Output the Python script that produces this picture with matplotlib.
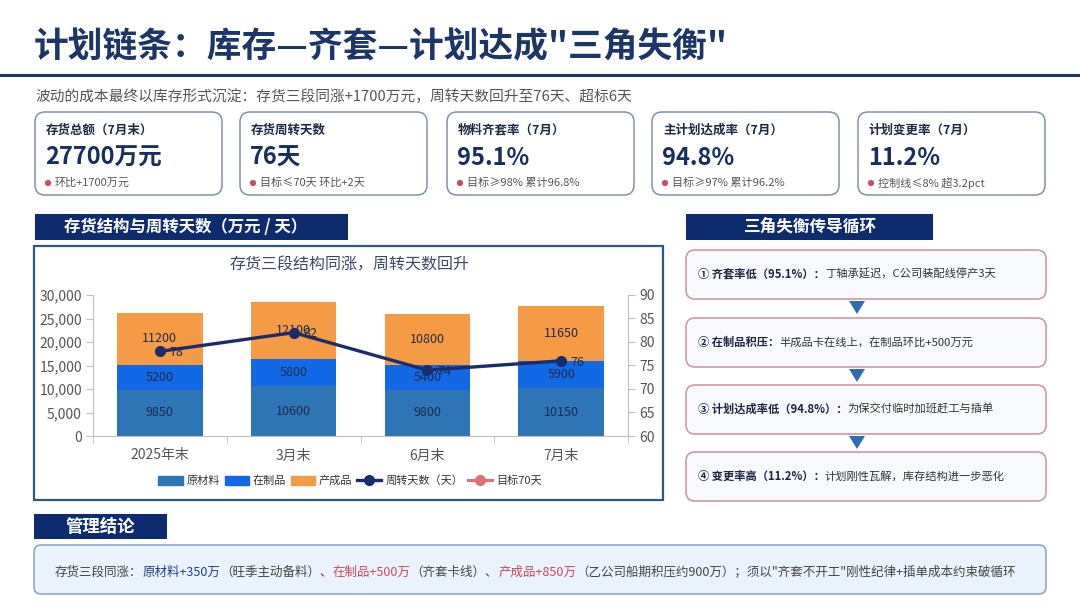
import numpy as np
import matplotlib
matplotlib.use("Agg")
import matplotlib.pyplot as plt
from matplotlib.patches import FancyBboxPatch, Rectangle, Polygon, Patch, Circle
from matplotlib.lines import Line2D
from matplotlib.ticker import FuncFormatter, MultipleLocator, FixedLocator

plt.rcParams['font.family'] = ['Noto Sans CJK SC', 'DejaVu Sans']

W, H = 1080, 608

# ---- 数据 ----
categories = ["2025年末", "3月末", "6月末", "7月末"]
raw_material = [9850, 10600, 9800, 10150]
wip = [5200, 5800, 5400, 5900]
finished = [11200, 12100, 10800, 11650]
turnover_days = [78, 82, 74, 76]
series_names = ["原材料", "在制品", "产成品", "周转天数（天）", "目标70天"]

title = "计划链条：库存—齐套—计划达成\"三角失衡\""
subtitle = "波动的成本最终以库存形式沉淀：存货三段同涨+1700万元，周转天数回升至76天、超标6天"

kpi_titles = ["存货总额（7月末）", "存货周转天数", "物料齐套率（7月）", "主计划达成率（7月）", "计划变更率（7月）"]
kpi_values = ["27700万元", "76天", "95.1%", "94.8%", "11.2%"]
kpi_notes = ["环比+1700万元", "目标≤70天 环比+2天", "目标≥98% 累计96.8%", "目标≥97% 累计96.2%", "控制线≤8% 超3.2pct"]

flow_heads = ["① 齐套率低（95.1%）：", "② 在制品积压：", "③ 计划达成率低（94.8%）：", "④ 变更率高（11.2%）："]
flow_texts = ["丁轴承延迟，C公司装配线停产3天", "半成品卡在线上，在制品环比+500万元",
              "为保交付临时加班赶工与插单", "计划刚性瓦解，库存结构进一步恶化"]

conclusion_runs = [
    ("存货三段同涨：", "gray"), ("原材料+350万", "blue"), ("（旺季主动备料）、", "gray"),
    ("在制品+500万", "red"), ("（齐套卡线）、", "gray"), ("产成品+850万", "red"),
    ("（乙公司船期积压约900万）；须以\"齐套不开工\"刚性纪律+插单成本约束破循环", "gray"),
]

NAVY = "#0d2b6f"
TITLE_C = "#1b3667"
run_colors = {"gray": "#444444", "blue": "#1f3f8a", "red": "#d2475c"}

fig = plt.figure(figsize=(W / 100, H / 100), dpi=100)
bg = fig.add_axes([0, 0, 1, 1])
bg.set_xlim(0, W)
bg.set_ylim(H, 0)
bg.axis("off")
renderer = fig.canvas.get_renderer()


def rbox(x0, y0, x1, y1, fc, ec, lw=1.0, r=9):
    p = FancyBboxPatch((x0, y0), x1 - x0, y1 - y0, boxstyle=f"round,pad=0,rounding_size={r}",
                       fc=fc, ec=ec, lw=lw)
    bg.add_patch(p)


def runs(x, y, items, size):
    for txt, color, weight in items:
        t = bg.text(x, y, txt, fontsize=size, color=color, fontweight=weight, ha="left", va="center")
        x += t.get_window_extent(renderer=renderer).width
    return x


# ---- 标题 ----
bg.text(34, 47, title, fontsize=25, fontweight="bold", color=TITLE_C, ha="left", va="center")
bg.plot([0, W], [75, 75], color=TITLE_C, lw=2.2)
bg.text(35, 97, subtitle, fontsize=10.6, color="#555555", ha="left", va="center")

# ---- KPI 卡片 ----
card_x = [35, 240, 447, 652, 858]
card_w = 187
for i in range(5):
    x0 = card_x[i]
    rbox(x0, 112, x0 + card_w, 195, "white", "#7d93ad", lw=1.1, r=10)
    bg.text(x0 + 11, 130, kpi_titles[i], fontsize=9, fontweight="bold", color="#1c2b45", va="center")
    bg.text(x0 + 10, 158, kpi_values[i], fontsize=17, fontweight="bold", color="#172f5f", va="center")
    bg.add_patch(Circle((x0 + 13, 183), 2.4, color="#c9505c"))
    bg.text(x0 + 20, 183, kpi_notes[i], fontsize=8, color="#555555", va="center")

# ---- 左侧：图表 ----
bg.add_patch(Rectangle((35, 214), 313, 26, fc=NAVY, ec="none"))
bg.text(186, 227, "存货结构与周转天数（万元 / 天）", fontsize=11.8, fontweight="bold", color="white",
        ha="center", va="center")
bg.add_patch(Rectangle((34, 246), 629, 254, fc="white", ec="#2e5a80", lw=1.6))
bg.text(350, 265, "存货三段结构同涨，周转天数回升", fontsize=11.5, color="#3b4966", ha="center", va="center")

cax = fig.add_axes([93 / W, 1 - 436 / H, (628 - 93) / W, (436 - 295) / H])
xs = np.arange(len(categories))
rm = np.array(raw_material)
wp = np.array(wip)
fg = np.array(finished)
bw = 0.64
b1 = cax.bar(xs, rm, width=bw, color="#2e75b6", label=series_names[0])
b2 = cax.bar(xs, wp, bottom=rm, width=bw, color="#1169e6", label=series_names[1])
b3 = cax.bar(xs, fg, bottom=rm + wp, width=bw, color="#f59b45", label=series_names[2])
for b in (b1, b2, b3):
    cax.bar_label(b, label_type="center", fontsize=9, color="#1e2c4c")
cax.set_xlim(-0.5, len(categories) - 0.5)
cax.set_ylim(0, 30000)
cax.yaxis.set_major_locator(MultipleLocator(5000))
cax.yaxis.set_major_formatter(FuncFormatter(lambda v, p: f"{int(v):,}"))
cax.set_xticks(xs)
cax.set_xticklabels(categories)
cax.xaxis.set_minor_locator(FixedLocator(np.arange(-0.5, len(categories), 1.0)))
cax.tick_params(axis="x", which="major", length=0, pad=9, labelsize=10, labelcolor="#555555")
cax.tick_params(axis="x", which="minor", length=5, color="#bfbfbf", direction="out")
cax.tick_params(axis="y", length=5, color="#bfbfbf", labelsize=10, labelcolor="#555555", pad=3)
for s in ("top", "right"):
    cax.spines[s].set_visible(False)
for s in ("left", "bottom"):
    cax.spines[s].set_color("#bfbfbf")

rax = cax.twinx()
ln, = rax.plot(xs, turnover_days, color="#1a2c6b", lw=2.4, marker="o", ms=7, label=series_names[3])
for xi, d in zip(xs, turnover_days):
    rax.annotate(str(d), (xi, d), xytext=(7, -1), textcoords="offset points", fontsize=9,
                 color="#1e2c4c", va="center", ha="left")
rax.set_ylim(60, 90)
rax.yaxis.set_major_locator(MultipleLocator(5))
rax.tick_params(axis="y", length=5, color="#bfbfbf", labelsize=10, labelcolor="#555555", pad=3)
for s in ("top", "left", "bottom"):
    rax.spines[s].set_visible(False)
rax.spines["right"].set_color("#bfbfbf")

target_handle = Line2D([], [], color="#dd6f76", lw=2.2, marker="o", ms=7)
handles = [Patch(color="#2e75b6"), Patch(color="#1169e6"), Patch(color="#f59b45"), ln, target_handle]
fig.legend(handles, series_names, loc="center", bbox_to_anchor=(350 / W, 1 - 481 / H), ncol=5,
           frameon=False, fontsize=8, handlelength=2.2, handleheight=0.9, columnspacing=0.4,
           handletextpad=0.35, labelcolor="#333333")

# ---- 右侧：传导循环 ----
bg.add_patch(Rectangle((686, 214), 247, 26, fc=NAVY, ec="none"))
bg.text(810, 227, "三角失衡传导循环", fontsize=12, fontweight="bold", color="white", ha="center", va="center")
box_tops = [250, 318, 385, 452]
box_h = 49
for i, top in enumerate(box_tops):
    rbox(686, top, 1046, top + box_h, "#f8f9fd", "#cf9aa3", lw=1.2, r=9)
    cy = top + box_h / 2
    runs(698, cy, [(flow_heads[i], "#1c2440", "bold"), (flow_texts[i], "#333333", "normal")], 8.1)
    if i < len(box_tops) - 1:
        ty = top + box_h + 2
        bg.add_patch(Polygon([[849, ty], [865, ty], [857, ty + 13]], closed=True, fc="#2f6db0", ec="none"))

# ---- 底部：管理结论 ----
bg.add_patch(Rectangle((34, 514), 133, 25, fc=NAVY, ec="none"))
bg.text(100, 526.5, "管理结论", fontsize=12.5, fontweight="bold", color="white", ha="center", va="center")
rbox(34, 545, 1046, 594, "#eaf2fc", "#8fa8c8", lw=1.2, r=7)
runs(55, 572, [(t, run_colors[c], "normal") for t, c in conclusion_runs], 9)

fig.savefig("out.png", dpi=100)
